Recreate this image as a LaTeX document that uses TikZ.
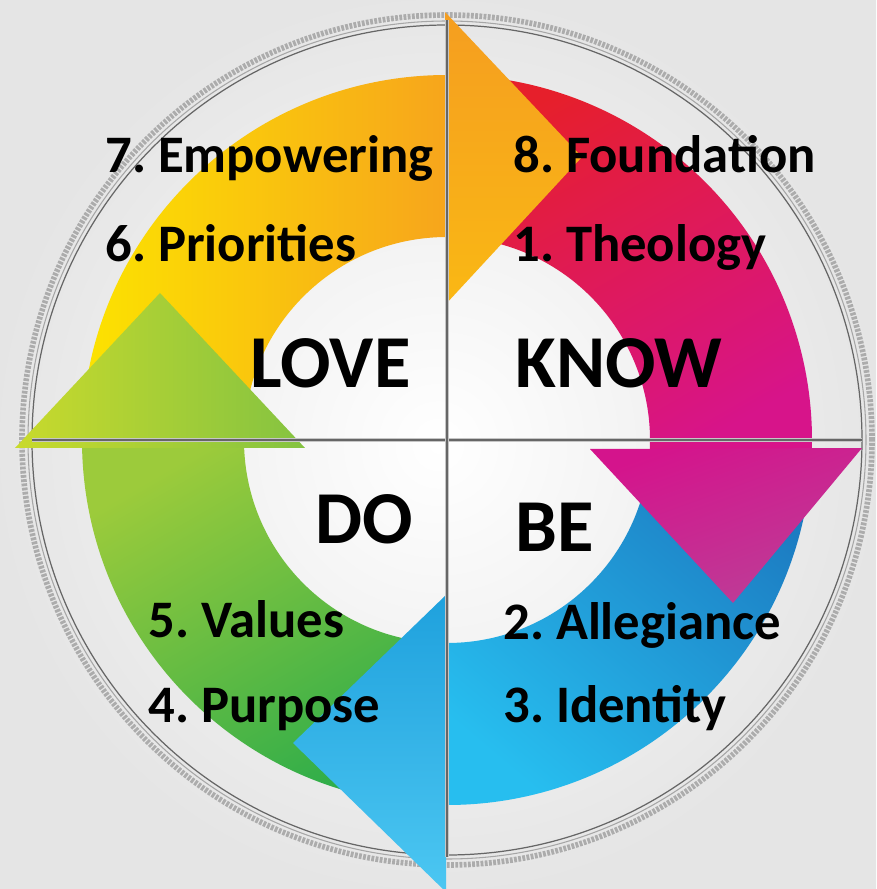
\documentclass[tikz,border=0pt]{standalone}
\usepackage{fontspec}
\setmainfont{Carlito}
\usepackage{xcolor}
\usepackage{tikz}
\usetikzlibrary{positioning}
\frenchspacing

\definecolor{loveYellow}{HTML}{FCE300}
\definecolor{loveOrange}{HTML}{F7A51C}
\definecolor{headOrange}{HTML}{F59E20}
\definecolor{headAmber}{HTML}{FAB814}
\definecolor{knowRed}{HTML}{E61F2B}
\definecolor{knowMagenta}{HTML}{D7148A}
\definecolor{headPink}{HTML}{D4148C}
\definecolor{headPlum}{HTML}{BC3E97}
\definecolor{beDeep}{HTML}{1C7CC2}
\definecolor{beSky}{HTML}{27BEEF}
\definecolor{headBlue}{HTML}{1FA1DD}
\definecolor{headCyan}{HTML}{4CC7F2}
\definecolor{doGreen}{HTML}{2EAD4A}
\definecolor{doLime}{HTML}{9CCB3B}
\definecolor{headLime}{HTML}{C9DA2C}
\definecolor{headGreen}{HTML}{84C341}

\begin{document}
\begin{tikzpicture}[x=0.02cm,y=0.02cm,
	item/.style={font=\fontsize{30}{32}\selectfont\bfseries,anchor=base west,inner sep=0pt},
	word/.style={font=\fontsize{42.5}{44}\selectfont\bfseries,anchor=base west,inner sep=0pt}]
	\useasboundingbox (-447,-449) rectangle (429,440);
	\shade[inner color=white,outer color=gray!20] (-447,-449) rectangle (429,440);

	% outer rim
	\draw[gray!65,line width=3.2pt,dash pattern=on 1.6pt off 0.8pt] (0,0) circle (425);
	\draw[gray!70,line width=0.6pt] (0,0) circle (419);
	\draw[black!60,line width=0.7pt] (0,0) circle (415);

	% ring segments
	\shade[left color=loveYellow,right color=loveOrange] (180:365) arc (180:90:365) -- (90:203) arc (90:180:203) -- cycle;
	\shade[top color=knowRed,bottom color=knowMagenta,shading angle=30] (90:365) arc (90:-3:365) -- (-3:203) arc (-3:90:203) -- cycle;
	\shade[top color=beDeep,bottom color=beSky,shading angle=-40] (-3:365) arc (-3:-91:365) -- (-91:203) arc (-91:-3:203) -- cycle;
	\shade[top color=doLime,bottom color=doGreen,shading angle=30] (-90:365) arc (-90:-180:365) -- (180:203) arc (180:270:203) -- cycle;

	% arrow heads
	\shade[top color=headOrange,bottom color=headAmber] (-2,428) -- (135,283) -- (-2,135) -- cycle;
	\shade[top color=headPink,bottom color=headPlum,shading angle=20] (143,-9) -- (415,-8) -- (286,-163) -- cycle;
	\shade[top color=headBlue,bottom color=headCyan] (-1,-155) -- (-154,-303) -- (-1,-452) -- cycle;
	\shade[left color=headLime,right color=headGreen] (-432,-8) -- (-287,147) -- (-142,-8) -- cycle;

	% cross
	\draw[gray!45,line width=1.8pt] (-415,0) -- (415,0);
	\draw[black!60,line width=0.6pt] (-415,0) -- (415,0);
	\draw[gray!45,line width=1.8pt] (0,420) -- (0,-417);
	\draw[black!60,line width=0.6pt] (0,420) -- (0,-417);

	% labels
	\node[item] (empowering) at (-342,267) {7. Empowering};
	\node[item] (priorities) at (-342,178) {6. Priorities};
	\node[item] (foundation) at (66,267) {8. Foundation};
	\node[item] (theology) at (66,178) {1. Theology};
	\node[word] (love) at (-197,52) {LOVE};
	\node[word] (know) at (68,52) {KNOW};
	\node[word] (do) at (-132,-103) {DO};
	\node[word] (be) at (68,-111) {BE};
	\node[item] (values) at (-299,-197) {5. Values};
	\node[item] (purpose) at (-299,-282) {4. Purpose};
	\node[item] (allegiance) at (56,-199) {2. Allegiance};
	\node[item] (identity) at (56,-282) {3. Identity};
\end{tikzpicture}
\end{document}
